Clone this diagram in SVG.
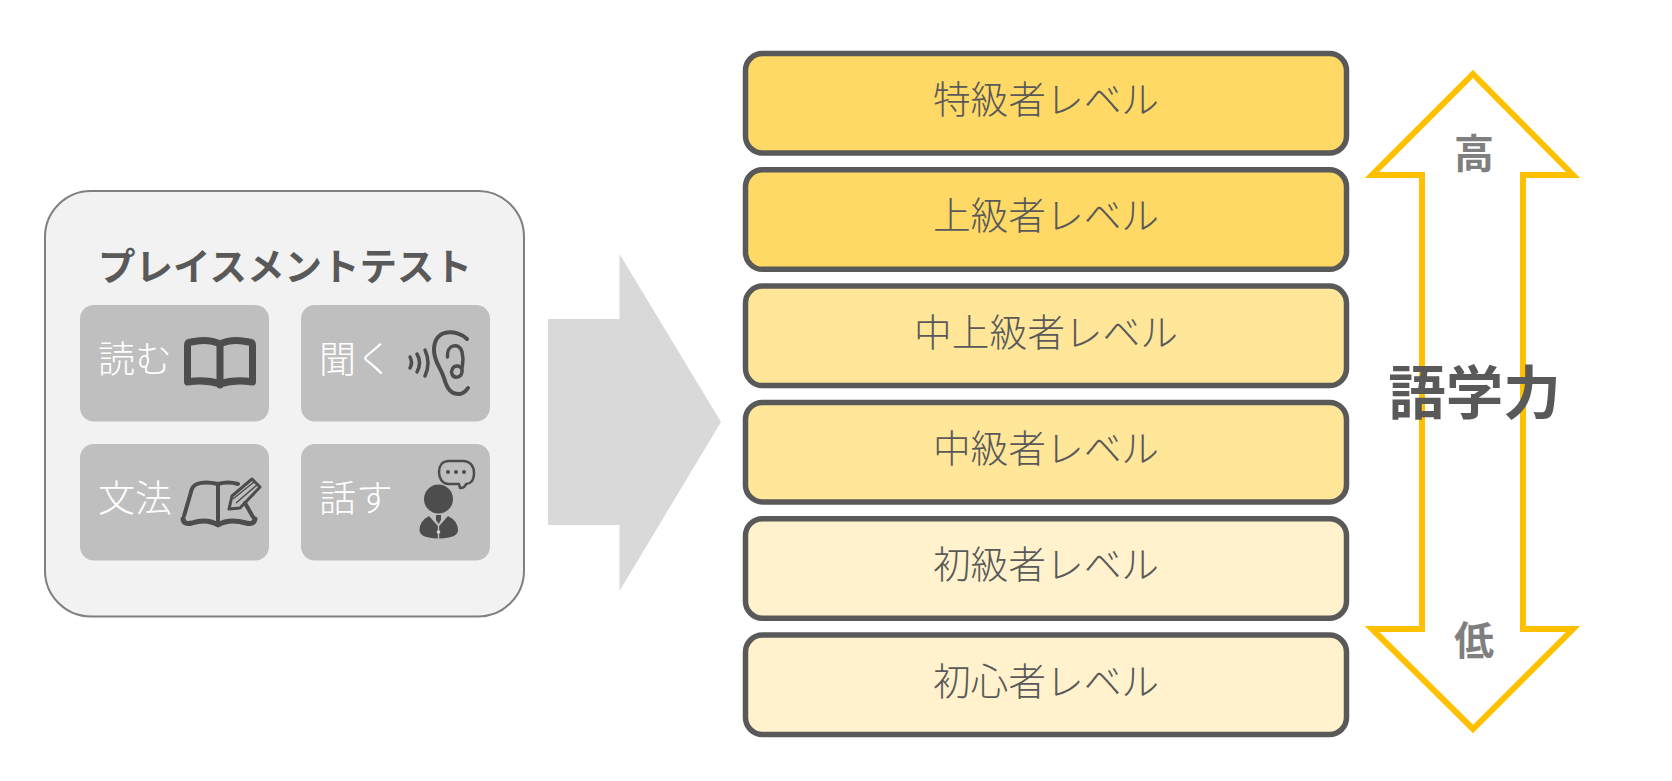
<svg xmlns="http://www.w3.org/2000/svg" width="1672" height="781" viewBox="0 0 1672 781">
<style>
text{font-family:"Noto Sans CJK JP","Noto Sans",sans-serif;text-anchor:middle}
.lv{stroke:#595959;stroke-width:5.5;}
.lt{font-size:37.7px;font-weight:300;fill:#595959}
.sk{fill:#bfbfbf}
.st{font-size:37px;font-weight:300;fill:#fff}
.ic{fill:none;stroke:#4d4d4d;stroke-linecap:round;stroke-linejoin:round}
.if{fill:#4d4d4d}
</style>
<rect width="1672" height="781" fill="#fff"/>
<g id="panel">
<rect x="45" y="191" width="479" height="425.500" rx="46" fill="#f2f2f2" stroke="#7f7f7f" stroke-width="2"/>
<text x="285" y="280" font-size="37.500px" font-weight="700" fill="#595959">プレイスメントテスト</text>
</g>
<g id="read">
<rect class="sk" x="80" y="305" width="189" height="116.500" rx="14"/>
<text class="st" x="135" y="373">読む</text>
<path class="ic" stroke-width="7" d="M187.500 382V345Q187.500 342 191 342Q208 338 220 344Q232 338 249 342Q252.500 342 252.500 345V382Q235 379 220 384Q205 379 187.500 382ZM220 344V385"/>
</g>
<g id="listen">
<rect class="sk" x="301" y="305" width="189" height="116.500" rx="14"/>
<text class="st" x="356" y="373">聞く</text>
<path class="ic" stroke-width="3.500" d="M410 357Q413 362.500 410 368M417 354Q422 362.500 417 372M425 350Q431 363 425 376"/>
<path class="ic" stroke-width="4" d="M467 339C458 330 434 327 434 350C434 362 441 368 444 378C447 389 451 394 459 394C463 394 466 391 468 388"/>
<path class="ic" stroke-width="3.500" d="M447.500 357C446 344 460 342 462 352C464 360 463 362 462 368M458 366C452 365 451 372 452 374C454 379 461 378 462 372C462.500 370 462 367 458 366Z"/>
</g>
<g id="grammar">
<rect class="sk" x="80" y="444" width="189" height="116.500" rx="14"/>
<text class="st" x="135" y="512">文法</text>
<path class="ic" stroke-width="4" d="M218 484Q205 481 197 484Q192 486 191 492L184 516M218 484Q228 481 238 484M218 484V522M245 503L253 517"/>
<path class="ic" stroke-width="5" d="M183 519Q184 525 192 523Q207 518 218 525Q229 518 246 523Q254 525 255 519"/>
<path fill="none" stroke="#4d4d4d" stroke-width="3" stroke-linejoin="round" d="M229 509L232 496L252 479L260 487L240 508Z"/>
<path fill="none" stroke="#4d4d4d" stroke-width="1.500" d="M233 499L254 482M236 503L257 485"/>
</g>
<g id="speak">
<rect class="sk" x="301" y="444" width="189" height="116.500" rx="14"/>
<text class="st" x="356" y="512">話す</text>
<path class="ic" stroke-width="2.500" d="M449 461H463C470 461 474 466 474 473C474 481 470 484 466 484Q465 488 460 488L459 484H449C442 484 439 478 439 472C439 466 442 461 449 461Z"/>
<circle class="if" cx="448" cy="472" r="2"/><circle class="if" cx="456" cy="472" r="2"/><circle class="if" cx="464" cy="472" r="2"/>
<circle class="if" cx="438.500" cy="499" r="14.500"/>
<path class="if" d="M429 516L437.800 526V538.500Q419.500 538 419.500 530Q419.500 521 429 516ZM448 516L439.200 526V538.500Q458 538 458 530Q458 521 448 516Z"/>
<path class="if" d="M436 515H441V520L438.500 524L436 520Z"/>
<circle cx="438.500" cy="532" r="1.800" fill="#d9d9d9"/>
</g>
<g id="connectors">
<polygon points="548,319 619.500,319 619.500,254 721,422 619.500,591 619.500,525 548,525" fill="#d9d9d9"/>
</g>
<g id="lv6"><rect class="lv" x="745.500" y="53.500" width="601" height="99.500" rx="17" fill="#ffd966"/><text class="lt" x="1046" y="113">特級者レベル</text></g>
<g id="lv5"><rect class="lv" x="745.500" y="169.800" width="601" height="99.500" rx="17" fill="#ffd966"/><text class="lt" x="1046" y="229.300">上級者レベル</text></g>
<g id="lv4"><rect class="lv" x="745.500" y="286.100" width="601" height="99.500" rx="17" fill="#ffe699"/><text class="lt" x="1046" y="345.600">中上級者レベル</text></g>
<g id="lv3"><rect class="lv" x="745.500" y="402.400" width="601" height="99.500" rx="17" fill="#ffe699"/><text class="lt" x="1046" y="461.900">中級者レベル</text></g>
<g id="lv2"><rect class="lv" x="745.500" y="518.700" width="601" height="99.500" rx="17" fill="#fff2cc"/><text class="lt" x="1046" y="578.200">初級者レベル</text></g>
<g id="lv1"><rect class="lv" x="745.500" y="635" width="601" height="99.500" rx="17" fill="#fff2cc"/><text class="lt" x="1046" y="694.500">初心者レベル</text></g>
<g id="scale">
<polygon points="1473,74 1573,175 1523,175 1523,629 1573,629 1473,729 1372,629 1422,629 1422,175 1372,175" fill="none" stroke="#ffc000" stroke-width="6"/>
<text x="1474" y="168" font-size="40px" font-weight="700" fill="#7f7f7f">高</text>
<text x="1474" y="655" font-size="40px" font-weight="700" fill="#7f7f7f">低</text>
<text x="1474.500" y="414" font-size="57.500px" font-weight="700" fill="#595959">語学力</text>
</g>
</svg>
